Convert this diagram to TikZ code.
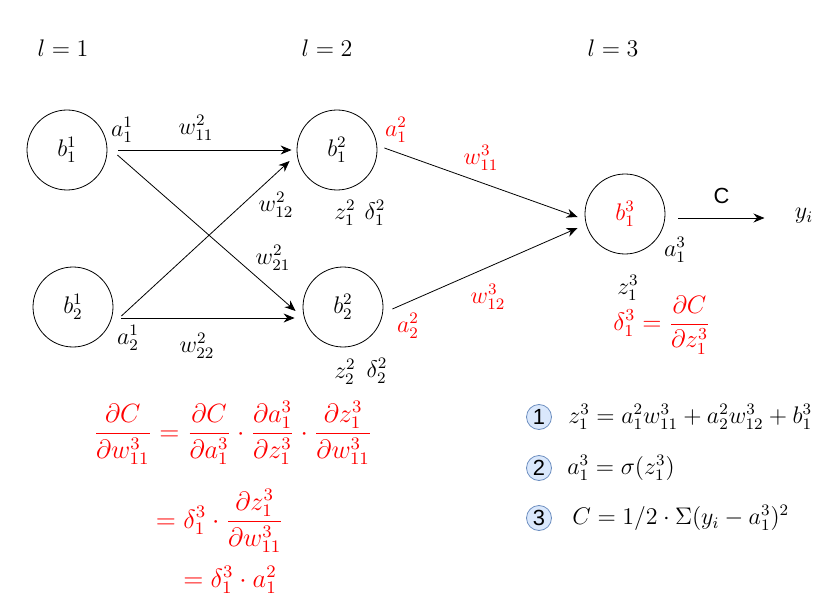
\documentclass[12pt,tikz,border=0pt]{standalone}
\usepackage{amsmath}
\usepackage{graphicx}
\usepackage{fontspec}
\newfontfamily\helv{Liberation Sans}
\usetikzlibrary{arrows.meta, positioning, calc}

\newcommand{\redbig}[1]{\scalebox{1.1}{#1}}

\tikzset{
  neuron/.style={circle, draw, minimum size=40pt, inner sep=0pt},
  arr/.style={-{Stealth[length=5.5pt, width=4.5pt]}},
  numcirc/.style={circle, draw=numdraw, fill=numfill, minimum size=12.5pt, inner sep=0pt, font=\helv\small},
  redeq/.style={text=fred},
}

\begin{document}
\begin{tikzpicture}[x=0.5pt, y=-0.5pt]
  % Define colors
  \definecolor{fred}{RGB}{255,0,0}
  \definecolor{numfill}{RGB}{218,232,252}
  \definecolor{numdraw}{RGB}{108,142,191}
  \useasboundingbox (0,0) rectangle (836,615);

  % Layer titles
  \foreach \x/\l in {63/1, 327/2, 613/3} {
    \node (lay\l) at (\x,48) {$l=\l$};
  }

  % Neurons
  \foreach \name/\x/\y/\lab in {
    b11/67/150/{b^1_1},
    b21/73/307/{b^1_2},
    b12/337/150/{b^2_1},
    b22/343/307/{b^2_2}
  } {
    \node[neuron] (\name) at (\x,\y) {$\lab$};
  }
  \node[neuron, text=fred] (b13) at (625,214) {$b^3_1$};

  % Activations, sums and errors
  \node (a11) at (122,130) {$a^1_1$};
  \node (a21) at (128,338) {$a^1_2$};
  \node[text=fred] (a12) at (396,130) {$a^2_1$};
  \node[text=fred] (a22) at (408,326) {$a^2_2$};
  \node (z12) at (345,213) {$z^2_1$};
  \node (d12) at (375,213) {$\delta^2_1$};
  \node (z22) at (345,372) {$z^2_2$};
  \node (d22) at (377,371) {$\delta^2_2$};
  \node (a13) at (675,250) {$a^3_1$};
  \node (z13) at (628,288) {$z^3_1$};
  \node[redeq] (d13) at (662,325) {\scalebox{1.05}{$\displaystyle \delta^3_1 = \frac{\partial C}{\partial z^3_1}$}};

  % Weights
  \node (w11) at (196,128) {$w^2_{11}$};
  \node (w12) at (276,205) {$w^2_{12}$};
  \node (w21) at (273,258) {$w^2_{21}$};
  \node (w22) at (197,346) {$w^2_{22}$};
  \node[text=fred] (w311) at (481,158) {$w^3_{11}$};
  \node[text=fred] (w312) at (488,297) {$w^3_{12}$};

  % Connections layer 1 -> layer 2
  \draw[arr] ($(b11.east)+(11,0)$) -- ($(b12.west)+(-5,0)$);
  \draw[arr] ($(b11.east)+(10,5)$) -- ($(b22.west)+(-7,4)$);
  \draw[arr] ($(b21.east)+(8,9)$) -- ($(b12.west)+(-7,11)$);
  \draw[arr] ($(b21.east)+(8,11)$) -- ($(b22.west)+(-8,11)$);

  % Connections layer 2 -> layer 3
  \draw[arr] ($(b12.east)+(7,-2)$) -- ($(b13.west)+(-7,3)$);
  \draw[arr] ($(b22.east)+(9,2)$) -- ($(b13.west)+(-7,14)$);

  % Output
  \node (yi) at (804,216) {$y_i$};
  \draw[arr] ($(b13.east)+(13,4)$) -- ($(yi.west)+(-22,2)$)
    node[midway, above=3pt, font=\helv\small] (cost) {C};

  % Forward equations
  \foreach \i/\y in {1/417, 2/468, 3/518} {
    \node[numcirc] (n\i) at (539,\y) {\i};
  }
  \node[right=4pt of n1] (eq1) {$z^3_1 = a^2_1 w^3_{11} + a^2_2 w^3_{12} + b^3_1$};
  \node[right=3.5pt of n2] (eq2) {$a^3_1 = \sigma(z^3_1)$};
  \node[right=6pt of n3] (eq3) {$C = 1/2 \cdot \Sigma(y_i - a^3_1)^2$};

  % Chain rule
  \node[redeq] (ch1) at (233,433) {\redbig{$\displaystyle \frac{\partial C}{\partial w^3_{11}} = \frac{\partial C}{\partial a^3_1} \cdot \frac{\partial a^3_1}{\partial z^3_1} \cdot \frac{\partial z^3_1}{\partial w^3_{11}}$}};
  \node[redeq] (ch2) at (220,521) {\redbig{$\displaystyle = \delta^3_1 \cdot \frac{\partial z^3_1}{\partial w^3_{11}}$}};
  \node[redeq] (ch3) at (230,580) {\redbig{$= \delta^3_1 \cdot a^2_1$}};
\end{tikzpicture}
\end{document}
